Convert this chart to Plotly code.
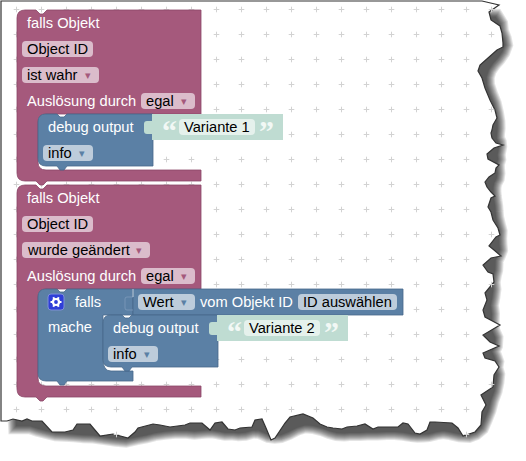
import math
import plotly.graph_objects as go

# torn page outline (pixels)
edge_x = [1, 482, 499, 489, 491, 500, 502, 503, 503, 497, 488, 480, 478, 482, 485, 490, 495, 497, 493, 492, 491,
          492, 496, 503, 494, 487, 488, 499, 496, 495, 489, 485, 487, 491, 495, 491, 488, 491, 493, 498, 500,
          496, 489, 494, 501, 491, 483, 488, 493, 494, 485, 487, 483, 485, 500, 483, 490, 499, 483, 485, 495,
          499, 494, 493, 481, 486, 482, 481, 475, 463, 458, 452, 435, 430, 427, 420, 415, 408, 403, 398, 378,
          373, 365, 357, 347, 342, 333, 327, 320, 313, 303, 290, 285, 275, 271, 266, 262, 255, 252, 240, 235,
          228, 222, 215, 210, 202, 190, 185, 170, 160, 153, 138, 135, 128, 113, 100, 90, 77, 73, 65, 52, 42, 32,
          27, 22, 13, 7, 1]
edge_y = [1, 1, 5, 12, 20, 26, 33, 43, 47, 50, 58, 65, 71, 78, 88, 100, 110, 118, 125, 130, 133,
          138, 143, 145, 148, 154, 159, 165, 168, 173, 177, 182, 187, 192, 196, 198, 207, 212, 220, 228, 235,
          237, 246, 250, 256, 258, 265, 272, 274, 282, 293, 300, 310, 317, 325, 335, 342, 346, 353, 358, 361,
          367, 375, 387, 395, 405, 412, 425, 432, 436, 428, 423, 422, 422, 430, 434, 433, 424, 423, 427, 427,
          429, 424, 426, 427, 429, 428, 427, 424, 418, 414, 417, 423, 438, 440, 428, 419, 420, 427, 428, 430,
          429, 422, 423, 430, 423, 423, 425, 427, 425, 424, 428, 432, 438, 434, 436, 424, 424, 430, 432, 432, 421, 421,
          419, 421, 419, 421, 421]

# texts
block_labels = ["falls Objekt", "Auslösung durch", "debug output", "falls", "mache", "vom Objekt ID"]
field_labels = ["Object ID", "ist wahr", "egal", "info", "Variante 1", "wurde geändert", "Wert",
                "ID auswählen", "Variante 2"]

PURPLE = "#a5597c"
PURPLE_DARK = "#8c4868"
PURPLE_FIELD = "#dbbccb"
BLUE = "#5b80a5"
BLUE_DARK = "#48688a"
BLUE_FIELD = "#bdccdb"
GREEN = "#bfdcd2"
GREEN_FIELD = "#e5f1ec"
FONT = "Liberation Sans"

shapes = []
annotations = []


def inside_page(px, py):
    hit = False
    n = len(edge_x)
    for i in range(n):
        x1, y1, x2, y2 = edge_x[i], edge_y[i], edge_x[i - 1], edge_y[i - 1]
        if (y1 > py) != (y2 > py) and px < x1 + (py - y1) * (x2 - x1) / (y2 - y1):
            hit = not hit
    return hit


def add_path(path, fill, line=None, width=1, layer="above", opacity=1):
    shapes.append(dict(type="path", path=path, fillcolor=fill, layer=layer, opacity=opacity, xref="x", yref="y",
                       line=dict(color=line if line else fill, width=width if line else 0)))


def add_text(x, y, text, color="white", size=14.67, font=FONT):
    annotations.append(dict(x=x, y=y, text=text, showarrow=False, xanchor="left", yanchor="middle", xref="x", yref="y",
                            borderpad=0, borderwidth=0, font=dict(family=font, size=size, color=color)))


def add_field(x0, x1, ymid, text, fill, arrow_x=None, arrow_color=None):
    add_path(f"M{x0 + 4},{ymid - 8} L{x1 - 4},{ymid - 8} Q{x1},{ymid - 8} {x1},{ymid - 4} L{x1},{ymid + 4} "
             f"Q{x1},{ymid + 8} {x1 - 4},{ymid + 8} L{x0 + 4},{ymid + 8} Q{x0},{ymid + 8} {x0},{ymid + 4} "
             f"L{x0},{ymid - 4} Q{x0},{ymid - 8} {x0 + 4},{ymid - 8} Z", fill)
    add_text(x0 + 5, ymid, text, color="black")
    if arrow_x:
        annotations.append(dict(x=arrow_x, y=ymid, text="▾", showarrow=False, xref="x", yref="y", borderpad=0,
                                font=dict(family="DejaVu Sans", size=11, color=arrow_color)))


def purple_block(top, inner_top, inner_bottom, bottom):
    add_path(f"M17,{top + 8} Q17,{top} 25,{top} L36,{top} L40,{top + 4} L43,{top + 4} L47,{top} L201,{top} "
             f"L201,{inner_top} L46,{inner_top} Q38,{inner_top} 38,{inner_top + 8} L38,{inner_bottom - 8} "
             f"Q38,{inner_bottom} 46,{inner_bottom} L201,{inner_bottom} L201,{bottom} L47,{bottom} "
             f"L43,{bottom + 4} L40,{bottom + 4} L36,{bottom} L25,{bottom} Q17,{bottom} 17,{bottom - 8} Z",
             PURPLE, PURPLE_DARK, 0.8)


def debug_block(x, y):
    add_path(f"M{x},{y + 8} Q{x},{y} {x + 8},{y} L{x + 19},{y} L{x + 22},{y + 3} L{x + 26},{y + 3} L{x + 29},{y} "
             f"L{x + 115},{y} L{x + 115},{y + 52} L{x + 29},{y + 52} L{x + 26},{y + 56} L{x + 22},{y + 56} "
             f"L{x + 19},{y + 52} L{x + 8},{y + 52} Q{x},{y + 52} {x},{y + 44} Z", BLUE, BLUE_DARK, 0.8)
    add_text(x + 10, y + 13, block_labels[2])
    add_field(x + 5, x + 55, y + 39, field_labels[3], BLUE_FIELD, x + 44, BLUE)


def string_block(x, y, text, field_x1):
    add_path(f"M{x},{y} L{x + 131},{y} L{x + 131},{y + 26} L{x},{y + 26} Z", GREEN)
    add_path(f"M{x},{y + 7} L{x - 5},{y + 7} Q{x - 8},{y + 7} {x - 8},{y + 10} L{x - 8},{y + 17} "
             f"Q{x - 8},{y + 20} {x - 5},{y + 20} L{x},{y + 20} Z", GREEN)
    add_text(x + 10, y + 16, "<b>“</b>", color="#f2f8f5", size=30, font="Liberation Serif")
    add_field(x + 27, field_x1, y + 13, text, GREEN_FIELD)
    add_text(field_x1 + 4, y + 16, "<b>”</b>", color="#f2f8f5", size=30, font="Liberation Serif")


# page shadow: smoothed copy of the outline, stacked in soft layers
n_edge = len(edge_x)
soft_x = [(edge_x[i - 2] + edge_x[i - 1] + edge_x[i] + edge_x[(i + 1) % n_edge] + edge_x[(i + 2) % n_edge]) / 5 + 3
          for i in range(n_edge)]
soft_y = [(edge_y[i - 2] + edge_y[i - 1] + edge_y[i] + edge_y[(i + 1) % n_edge] + edge_y[(i + 2) % n_edge]) / 5 + 5
          for i in range(n_edge)]
shifted = "M" + " L".join(f"{x:.1f},{y:.1f}" for x, y in zip(soft_x, soft_y)) + " Z"
for w in [18, 16, 14, 12, 10, 8, 6, 4, 2]:
    add_path(shifted, "black", "black", w, layer="below", opacity=0.1)
page = "M" + " L".join(f"{x},{y}" for x, y in zip(edge_x, edge_y)) + " Z"
add_path(page, "white", "#333333", 1.2, layer="below")

# first block
purple_block(10, 114, 170, 181)
add_text(27, 23, block_labels[0])
add_field(22, 93, 49, field_labels[0], PURPLE_FIELD)
add_field(22, 99, 75, field_labels[1], PURPLE_FIELD, 88, PURPLE)
add_text(27, 101, block_labels[1])
add_field(141, 195, 101, field_labels[2], PURPLE_FIELD, 184, PURPLE)
debug_block(38, 114)
string_block(152, 114, field_labels[4], 255)

# second block
purple_block(185, 289, 386, 397)
add_text(27, 198, block_labels[0])
add_field(22, 93, 224, field_labels[0], PURPLE_FIELD)
add_field(22, 150, 250, field_labels[5], PURPLE_FIELD, 139, PURPLE)
add_text(27, 276, block_labels[1])
add_field(141, 195, 276, field_labels[2], PURPLE_FIELD, 184, PURPLE)

# falls/mache block
add_path("M38,297 Q38,289 46,289 L57,289 L60,292 L64,292 L67,289 L133,289 L133,315 L103,315 L103,359 "
         "Q103,371 111,371 L133,371 L133,381 L67,381 L64,385 L60,385 L57,381 L46,381 Q38,381 38,373 Z",
         BLUE, BLUE_DARK, 0.8)
add_path("M133,289 L403,289 L403,315 L133,315 Z", BLUE, BLUE_DARK, 0.8)
# input socket of the falls block, only a faint outline in the picture
shapes.append(dict(type="path", path="M133,297 L127,297 Q125,297 125,299 L125,308 Q125,310 127,310 L133,310",
                   xref="x", yref="y", layer="above", line=dict(color="#7d9abb", width=0.8)))
shapes.append(dict(type="line", x0=133, x1=133, y0=289, y1=297, xref="x", yref="y", layer="above",
                   line=dict(color="#c4d3e2", width=1)))

# gear button
add_path("M51,294 L61,294 Q64,294 64,297 L64,307 Q64,310 61,310 L51,310 Q48,310 48,307 L48,297 Q48,294 51,294 Z",
         "#2f3fd8", "#7f8fd8", 1)
shapes.append(dict(type="circle", x0=53, x1=59, y0=299, y1=305, xref="x", yref="y", layer="above",
                   line=dict(color="white", width=2.2)))
teeth = ""
for k in range(6):
    a = k * math.pi / 3
    teeth += f"M{56 + 3 * math.cos(a):.2f},{302 + 3 * math.sin(a):.2f} L{56 + 5.5 * math.cos(a):.2f},{302 + 5.5 * math.sin(a):.2f} "
shapes.append(dict(type="path", path=teeth, xref="x", yref="y", layer="above", line=dict(color="white", width=2)))

add_text(75, 302, block_labels[3])
add_text(48, 327, block_labels[4])
add_field(138, 195, 302, field_labels[6], BLUE_FIELD, 184, BLUE)
add_text(200, 302, block_labels[5])
add_field(298, 397, 302, field_labels[7], BLUE_FIELD)
debug_block(103, 315)
string_block(217, 315, field_labels[8], 320)

# workspace grid crosses
grid_x = []
grid_y = []
for gx in range(16, 516, 25):
    for gy in range(9, 450, 25):
        if inside_page(gx + 0.5, gy + 0.5):
            grid_x.append(gx + 0.5)
            grid_y.append(gy + 0.5)

fig = go.Figure(go.Scatter(x=grid_x, y=grid_y, mode="markers", hoverinfo="skip",
                           marker=dict(symbol="cross-thin", size=4, line=dict(color="#d2d2d2", width=1))))
fig.update_layout(width=526, height=461, margin=dict(l=0, r=0, t=0, b=0), showlegend=False,
                  paper_bgcolor="white", plot_bgcolor="rgba(0,0,0,0)", shapes=shapes, annotations=annotations,
                  xaxis=dict(visible=False, range=[0, 526], fixedrange=True),
                  yaxis=dict(visible=False, range=[461, 0], fixedrange=True))
fig.write_html("out.html", config={"displayModeBar": False},
               post_script="document.body.style.margin='0';document.body.style.overflow='hidden';")
